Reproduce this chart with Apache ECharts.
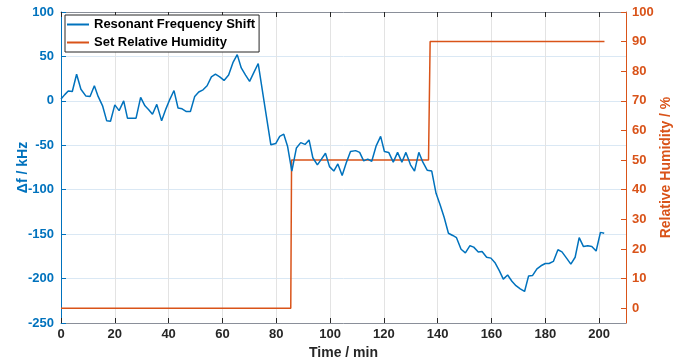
<!DOCTYPE html>
<html>
<head>
<meta charset="utf-8">
<script src="https://cdn.jsdelivr.net/npm/echarts@6/dist/echarts.min.js"></script>
<style>html,body{margin:0;padding:0;background:#fff;}#c{width:690px;height:364px;}</style>
</head>
<body>
<div id="c"></div>
<script>
// Resonant frequency shift (kHz) vs time (min)
const shiftTimes = [0,1.4,2.7,4.2,5.8,7.4,9.2,10.8,12.4,13.8,15.5,17,18.4,20,21.6,23.3,24.7,26.3,27.9,29.6,31.2,32.6,34,35.6,37.4,39,40.5,42,43.5,45,46.6,48.1,49.7,51.2,52.8,54.3,55.9,57.4,59,60.6,62.3,63.9,65.5,67,68.6,70.1,71.7,73.3,75.6,78,79.8,81.3,82.8,84.2,85.8,87.5,89.1,90.7,92.2,93.6,95.3,96.8,98.3,99.8,101.4,102.9,104.5,106,107.6,109.5,111,112.5,114,115.5,117.1,118.8,120.2,121.8,123.5,125.1,126.7,128.2,129.9,131.4,133,134.5,136.1,137.8,139.4,140.9,142.4,144,145.6,147,148.7,150.3,152,153.4,155.1,156.5,158.2,159.8,161.4,162.9,164.4,166,167.6,169.1,170.7,172.3,173.8,175.3,176.9,178.4,180,181.4,183,184.7,186.2,187.9,189.5,191.1,192.6,194.2,195.8,197.3,198.9,200.5,201.9];
const shiftValues = [2,7,11,10.5,30,13,5.6,5,17,5,-6,-22.5,-23,-4.5,-11,0,-19.5,-19.5,-19.5,4,-5.6,-10,-15,-4,-22.5,-9,2,11.6,-8,-9,-12,-12,5,10,12.4,17,27,30,27,23,29,43,52,37,29,22,32,42,-3,-49.5,-48,-40,-37.5,-51,-79,-53,-47,-49,-44,-64,-72,-65.6,-59,-74,-79,-71,-84,-70,-57,-56,-58,-67.5,-65.6,-68,-51,-40,-57,-58,-69,-58,-69,-58,-72,-79,-58,-69,-78,-79,-104,-117,-131,-149,-151.5,-154,-167,-171,-163,-164.6,-170,-169.5,-176,-177,-182.6,-191,-200.6,-196,-203,-208,-211.5,-214.5,-197,-196.5,-189,-185.6,-183,-183,-180.7,-167.6,-170,-177,-183.7,-176,-154,-164,-163,-164,-169,-148,-149];
// Set relative humidity (%)
const rhTimes = [0,85.4,85.7,136.6,137.2,202];
const rhValues = [0,0,50,50,90,90];
// Tick labels
const xTicks = [0,20,40,60,80,100,120,140,160,180,200];
const rhTicks = [0,10,20,30,40,50,60,70,80,90,100];

const BLUE = '#0072BD', ORANGE = '#D95319', DARK = '#262626';
const FONT = '"Liberation Sans", Arial, sans-serif';

const chart = echarts.init(document.getElementById('c'));
chart.setOption({
  animation: false,
  backgroundColor: '#fff',
  grid: {left: 61, right: 64, top: 12, bottom: 41, containLabel: false, outerBoundsMode: 'none'},
  legend: {
    orient: 'vertical', left: 65, top: 15,
    padding: [2, 4, 2, 2], itemGap: 3, itemWidth: 22, itemHeight: 2,
    backgroundColor: '#fff', borderColor: DARK, borderWidth: 1,
    textStyle: {fontFamily: FONT, fontWeight: 'bold', fontSize: 13, color: '#000', lineHeight: 15},
    data: [
      {name: 'Resonant Frequency Shift', icon: 'rect', itemStyle: {color: BLUE}},
      {name: 'Set Relative Humidity', icon: 'rect', itemStyle: {color: ORANGE}}
    ]
  },
  xAxis: [{
    type: 'value', min: 0, max: 210, interval: 20, position: 'bottom',
    name: 'Time / min', nameLocation: 'middle', nameGap: 23, nameMoveOverlap: false,
    nameTextStyle: {fontFamily: FONT, fontWeight: 'bold', fontSize: 14, color: DARK},
    axisLine: {show: true, onZero: false, lineStyle: {color: '#8a8f99', width: 1}},
    axisTick: {show: true, inside: true, length: 5, lineStyle: {color: DARK}, customValues: xTicks},
    axisLabel: {fontFamily: FONT, fontWeight: 'bold', fontSize: 13, color: DARK, margin: 5,
      customValues: xTicks},
    splitLine: {show: true, lineStyle: {color: '#e3e3e3', width: 1}}
  }, {
    type: 'value', min: 0, max: 210, interval: 20, position: 'top',
    axisLine: {show: true, onZero: false, lineStyle: {color: '#8a8f99', width: 1}},
    axisTick: {show: true, inside: true, length: 5, lineStyle: {color: DARK}, customValues: xTicks},
    axisLabel: {show: false},
    splitLine: {show: false}
  }],
  yAxis: [{
    type: 'value', min: -250, max: 100, interval: 50, position: 'left',
    name: 'Δf / kHz', nameLocation: 'middle', nameGap: 31, nameMoveOverlap: false,
    nameTextStyle: {fontFamily: FONT, fontWeight: 'bold', fontSize: 14, color: BLUE},
    axisLine: {show: true, onZero: false, lineStyle: {color: BLUE, width: 1}},
    axisTick: {show: true, inside: true, length: 5, lineStyle: {color: BLUE}},
    axisLabel: {fontFamily: FONT, fontWeight: 'bold', fontSize: 13, color: BLUE, margin: 7},
    splitLine: {show: true, lineStyle: {color: '#dae8f4', width: 1}}
  }, {
    type: 'value', min: -5, max: 100, position: 'right',
    name: 'Relative Humidity / %', nameLocation: 'middle', nameGap: 33, nameRotate: 90, nameMoveOverlap: false,
    nameTextStyle: {fontFamily: FONT, fontWeight: 'bold', fontSize: 14, color: ORANGE},
    axisLine: {show: true, onZero: false, lineStyle: {color: ORANGE, width: 1}},
    axisTick: {show: true, inside: true, length: 5, lineStyle: {color: ORANGE}, customValues: rhTicks},
    axisLabel: {fontFamily: FONT, fontWeight: 'bold', fontSize: 13, color: ORANGE, margin: 6, customValues: rhTicks},
    splitLine: {show: false}
  }],
  series: [{
    name: 'Resonant Frequency Shift', type: 'line', xAxisIndex: 0, yAxisIndex: 0,
    showSymbol: false, symbol: 'none',
    lineStyle: {color: BLUE, width: 1.5}, itemStyle: {color: BLUE},
    data: shiftTimes.map((t, i) => [t, shiftValues[i]]), z: 3
  }, {
    name: 'Set Relative Humidity', type: 'line', xAxisIndex: 0, yAxisIndex: 1,
    showSymbol: false, symbol: 'none',
    lineStyle: {color: ORANGE, width: 1.5}, itemStyle: {color: ORANGE},
    data: rhTimes.map((t, i) => [t, rhValues[i]]), z: 2
  }]
});
</script>
</body>
</html>
